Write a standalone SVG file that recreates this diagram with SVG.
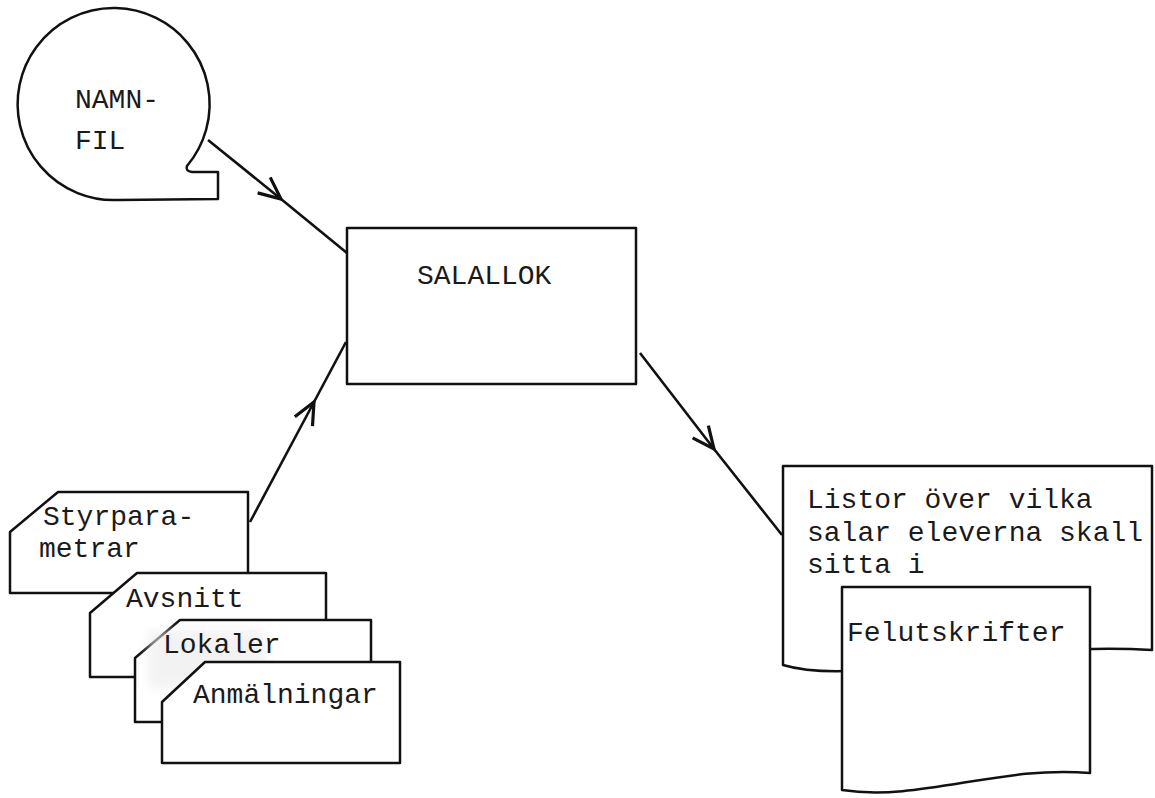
<svg xmlns="http://www.w3.org/2000/svg" width="1155" height="798" viewBox="0 0 1155 798">
  <style>
    .shape { fill: #ffffff; stroke: #111111; stroke-width: 2.5; stroke-linejoin: round; }
    .conn { fill: none; stroke: #111111; stroke-width: 2.6; }
    .t { font-family: "Liberation Mono", "Courier New", monospace; font-size: 28px; fill: #1a1a1a; }
  </style>
  <defs>
    <marker id="ah" markerUnits="userSpaceOnUse" viewBox="-28 -14 32 28" markerWidth="32" markerHeight="28" refX="0" refY="0" orient="auto" overflow="visible">
      <path d="M-22,-10 L0,0 L-22,10" fill="none" stroke="#111111" stroke-width="3.2" stroke-linejoin="miter"/>
    </marker>
    <filter id="smudge" x="-20%" y="-20%" width="140%" height="140%">
      <feGaussianBlur stdDeviation="5"/>
    </filter>
  </defs>
  <rect width="1155" height="798" fill="#ffffff"/>

  <g id="connectors">
    <path class="conn" d="M208,140 L281,199 L347,253" marker-mid="url(#ah)"/>
    <path class="conn" d="M250,522 L314,402 L346,342" marker-mid="url(#ah)"/>
    <path class="conn" d="M640,353 L714,449 L782,535" marker-mid="url(#ah)"/>
  </g>

  <g id="namnfil">
    <path class="shape" d="M187,166 A96,96 0 1 0 118,200 L218,199 L218,172 L192,172 Q185,171 187,166 Z"/>
    <text class="t" x="75" y="108">NAMN-</text>
    <text class="t" x="75" y="149">FIL</text>
  </g>

  <g id="salallok">
    <rect class="shape" x="347" y="228" width="289" height="156"/>
    <text class="t" x="417" y="284">SALALLOK</text>
  </g>

  <g id="styrparametrar">
    <path class="shape" d="M10,532 L58,492 L248,492 L248,593 L10,593 Z"/>
    <text class="t" x="43" y="525">Styrpara-</text>
    <text class="t" x="39" y="557">metrar</text>
  </g>

  <g id="avsnitt">
    <path class="shape" d="M90,613 L137,573 L326,573 L326,677 L90,677 Z"/>
    <text class="t" x="126" y="607">Avsnitt</text>
  </g>

  <g id="lokaler">
    <path class="shape" d="M135,658 L180,620 L371,620 L371,722 L135,722 Z"/>
    <rect x="148" y="630" width="118" height="58" fill="#ebebeb" opacity="0.6" filter="url(#smudge)"/>
    <text class="t" x="163" y="653">Lokaler</text>
  </g>

  <g id="anmalningar">
    <path class="shape" d="M162,702 L205,662 L400,662 L400,763 L162,763 Z"/>
    <text class="t" x="193" y="703">Anmälningar</text>
  </g>

  <g id="listor">
    <path class="shape" d="M783,466 L1152,466 L1152,650 C1000,640 860,688 783,665 Z"/>
    <text class="t" x="807" y="508">Listor över vilka</text>
    <text class="t" x="807" y="541">salar eleverna skall</text>
    <text class="t" x="807" y="573">sitta i</text>
  </g>

  <g id="felutskrifter">
    <path class="shape" d="M842,587 L1090,587 L1090,773 C1000,765 920,802 842,790 Z"/>
    <text class="t" x="847" y="641">Felutskrifter</text>
  </g>
</svg>
